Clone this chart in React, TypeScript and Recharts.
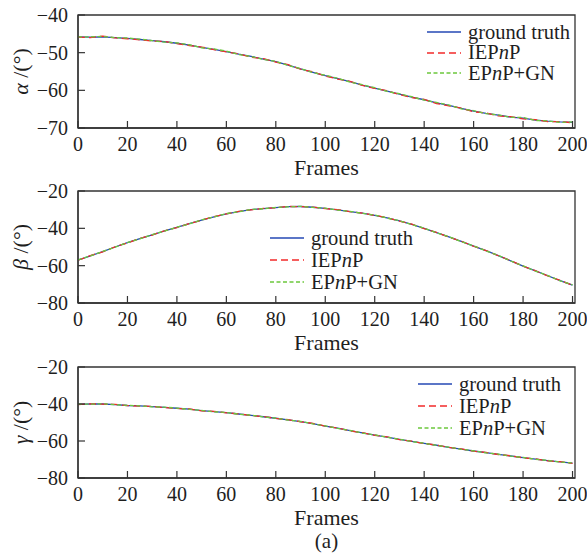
import { LineChart, Line, XAxis, YAxis, Legend, ReferenceArea, Label } from "recharts";

const frames = [
  0, 5, 10, 15, 20, 25, 30, 35, 40, 45, 50, 55, 60, 65, 70, 75, 80, 85, 90, 95, 100,
  105, 110, 115, 120, 125, 130, 135, 140, 145, 150, 155, 160, 165, 170, 175, 180, 185, 190, 195, 200,
];

const alphaTruth = [
  -45.8, -45.9, -45.8, -46.0, -46.2, -46.5, -46.8, -47.1, -47.5, -48.0, -48.6, -49.1, -49.7, -50.4,
  -51.0, -51.7, -52.4, -53.3, -54.3, -55.2, -56.1, -56.9, -57.7, -58.6, -59.4, -60.2, -61.0, -61.8,
  -62.5, -63.3, -64.0, -64.8, -65.5, -66.1, -66.6, -67.1, -67.4, -67.9, -68.2, -68.4, -68.5,
];
const alphaIepnp = [
  -45.9, -46.0, -45.6, -46.1, -46.3, -46.6, -46.9, -47.0, -47.6, -48.1, -48.5, -49.2, -49.8, -50.3,
  -51.2, -51.6, -52.5, -53.2, -54.4, -55.1, -56.2, -57.0, -57.6, -58.7, -59.5, -60.1, -61.1, -61.9,
  -62.4, -63.5, -64.1, -64.7, -65.7, -66.0, -66.8, -67.0, -67.6, -67.8, -68.3, -68.3, -68.6,
];
const alphaEpnpGn = [
  -45.8, -45.8, -45.7, -46.0, -46.1, -46.4, -46.8, -47.2, -47.4, -47.9, -48.7, -49.0, -49.6, -50.5,
  -51.0, -51.8, -52.3, -53.4, -54.2, -55.3, -56.0, -56.8, -57.8, -58.5, -59.3, -60.3, -60.9, -61.7,
  -62.6, -63.2, -63.9, -64.9, -65.4, -66.2, -66.5, -67.2, -67.2, -68.0, -68.1, -68.5, -68.4,
];

const betaTruth = [
  -57.0, -54.7, -52.5, -50.0, -47.7, -45.5, -43.5, -41.4, -39.5, -37.5, -35.6, -33.8, -32.2, -31.0,
  -30.0, -29.4, -28.9, -28.4, -28.3, -28.7, -29.3, -30.1, -31.0, -31.9, -33.0, -34.4, -36.0, -37.9,
  -40.0, -42.3, -44.6, -47.0, -49.5, -52.0, -54.6, -57.4, -60.2, -62.8, -65.4, -68.0, -70.4,
];
const betaIepnp = [
  -57.1, -54.6, -52.6, -49.9, -47.8, -45.4, -43.6, -41.3, -39.6, -37.4, -35.7, -33.7, -32.3, -30.9,
  -30.1, -29.3, -29.0, -28.3, -28.4, -28.6, -29.4, -30.0, -31.1, -31.8, -33.1, -34.3, -36.1, -37.8,
  -40.1, -42.2, -44.7, -46.9, -49.6, -51.9, -54.7, -57.3, -60.3, -62.7, -65.5, -67.9, -70.5,
];
const betaEpnpGn = [
  -56.9, -54.8, -52.4, -50.1, -47.6, -45.6, -43.4, -41.5, -39.4, -37.6, -35.5, -33.9, -32.1, -31.1,
  -29.9, -29.5, -28.8, -28.5, -28.2, -28.8, -29.2, -30.2, -30.9, -32.0, -32.9, -34.5, -35.9, -38.0,
  -39.9, -42.4, -44.5, -47.1, -49.4, -52.1, -54.5, -57.5, -60.1, -62.9, -65.3, -68.1, -70.3,
];

const gammaTruth = [
  -40.2, -40.0, -40.0, -40.3, -40.8, -41.0, -41.4, -41.8, -42.3, -42.8, -43.6, -44.1, -44.7, -45.4,
  -46.1, -46.9, -47.7, -48.6, -49.5, -50.6, -51.9, -53.1, -54.4, -55.6, -56.8, -57.9, -59.1, -60.2,
  -61.3, -62.3, -63.4, -64.4, -65.4, -66.3, -67.2, -68.1, -69.0, -69.8, -70.6, -71.3, -72.0,
];
const gammaIepnp = [
  -40.3, -39.9, -40.1, -40.2, -40.9, -41.1, -41.3, -41.9, -42.4, -42.7, -43.7, -44.0, -44.8, -45.3,
  -46.2, -46.8, -47.8, -48.5, -49.6, -50.5, -52.0, -53.0, -54.5, -55.5, -56.9, -57.8, -59.2, -60.1,
  -61.4, -62.2, -63.5, -64.3, -65.5, -66.2, -67.3, -68.0, -69.1, -69.7, -70.7, -71.2, -72.1,
];
const gammaEpnpGn = [
  -40.1, -40.1, -39.9, -40.4, -40.7, -41.0, -41.5, -41.7, -42.2, -42.9, -43.5, -44.2, -44.6, -45.5,
  -46.0, -47.0, -47.6, -48.7, -49.4, -50.7, -51.8, -53.2, -54.3, -55.7, -56.7, -58.0, -59.0, -60.3,
  -61.2, -62.4, -63.3, -64.5, -65.3, -66.4, -67.1, -68.2, -68.9, -69.9, -70.5, -71.4, -71.9,
];

const xTicks = [0, 20, 40, 60, 80, 100, 120, 140, 160, 180, 200];
const alphaTicks = [-70, -60, -50, -40];
const betaTicks = [-80, -60, -40, -20];
const gammaTicks = [-80, -60, -40, -20];

const seriesNames = ["ground truth", "IEPnP", "EPnP+GN"];

const FONT = "Liberation Serif, serif";
const INK = "#1e1e1e";
const AXIS = "#333";
const COLORS = ["#2448b4", "#f22a2a", "#6cc83c"];
const DASHES = [undefined, "7 4", "4 2.5"];
const W = 587;
const H = 180;

const fmt = (v: number) => String(v).replace("-", "\u2212");

// "IEPnP" -> IEP<i>n</i>P
function legendLabel(name: string) {
  const k = name.indexOf("nP");
  if (k < 0) return name;
  return (
    <>
      {name.slice(0, k)}
      <i>n</i>
      {name.slice(k + 1)}
    </>
  );
}

function LegendBox({ rowGap }: { rowGap: number }) {
  return (
    <div style={{ fontFamily: FONT, fontSize: 20.5, color: INK }}>
      {seriesNames.map((name, i) => (
        <div key={name} style={{ display: "flex", alignItems: "center", height: rowGap }}>
          <svg width={34} height={4}>
            <line x1={0} y1={2} x2={34} y2={2} stroke={COLORS[i]} strokeWidth={1.4} strokeDasharray={DASHES[i]} />
          </svg>
          <span style={{ marginLeft: 7, lineHeight: "19px", whiteSpace: "nowrap" }}>{legendLabel(name)}</span>
        </div>
      ))}
    </div>
  );
}

function Panel({
  top,
  plotTop,
  plotBottom,
  greek,
  yTicks,
  truth,
  iepnp,
  epnpGn,
  legendLeft,
  legendTop,
  rowGap,
}: {
  top: number;
  plotTop: number;
  plotBottom: number;
  greek: string;
  yTicks: number[];
  truth: number[];
  iepnp: number[];
  epnpGn: number[];
  legendLeft: number;
  legendTop: number;
  rowGap: number;
}) {
  const data = frames.map((f, i) => ({ frame: f, truth: truth[i], iepnp: iepnp[i], epnpGn: epnpGn[i] }));
  const yMin = yTicks[0];
  const yMax = yTicks[yTicks.length - 1];
  const tickStyle = { fill: INK, fontSize: 20, fontFamily: FONT };

  return (
    <div style={{ position: "absolute", left: 0, top }}>
      <LineChart width={W} height={H} data={data} margin={{ top: plotTop, right: 12, left: 0, bottom: 0 }}>
        <XAxis
          dataKey="frame"
          type="number"
          domain={[0, 201]}
          ticks={xTicks}
          interval={0}
          height={H - plotBottom}
          tickSize={-7}
          tickMargin={16}
          tick={tickStyle}
          tickLine={{ stroke: AXIS, strokeWidth: 1.2 }}
          axisLine={{ stroke: AXIS, strokeWidth: 1.3 }}
        >
          <Label
            value="Frames"
            position="insideBottom"
            offset={H - plotBottom - 47}
            style={{ fill: INK, fontSize: 22, fontFamily: FONT }}
          />
        </XAxis>
        <YAxis
          type="number"
          domain={[yMin, yMax]}
          ticks={yTicks}
          interval={0}
          width={78}
          tickSize={-7}
          tickMargin={17}
          tickFormatter={fmt}
          tick={tickStyle}
          tickLine={{ stroke: AXIS, strokeWidth: 1.2 }}
          axisLine={{ stroke: AXIS, strokeWidth: 1.3 }}
        >
          <Label
            content={({ viewBox }: any) => {
              const cy = viewBox.y + viewBox.height / 2;
              return (
                <text
                  x={20}
                  y={cy}
                  transform={`rotate(-90, 20, ${cy})`}
                  textAnchor="middle"
                  dominantBaseline="central"
                  fill={INK}
                  fontSize={22}
                  fontFamily={FONT}
                >
                  <tspan fontStyle="italic">{greek}</tspan>
                  <tspan> /(°)</tspan>
                </text>
              );
            }}
          />
        </YAxis>
        <ReferenceArea x1={0} x2={201} y1={yMin} y2={yMax} fill="none" stroke={AXIS} strokeWidth={1.3} />
        <Line dataKey="truth" name={seriesNames[0]} stroke={COLORS[0]} strokeWidth={1.3} dot={false} isAnimationActive={false} />
        <Line dataKey="iepnp" name={seriesNames[1]} stroke={COLORS[1]} strokeWidth={1.3} strokeDasharray={DASHES[1]} dot={false} isAnimationActive={false} />
        <Line dataKey="epnpGn" name={seriesNames[2]} stroke={COLORS[2]} strokeWidth={1.3} strokeDasharray={DASHES[2]} dot={false} isAnimationActive={false} />
        <Legend
          layout="vertical"
          align="center"
          verticalAlign="middle"
          content={() => <LegendBox rowGap={rowGap} />}
          wrapperStyle={{ left: legendLeft, top: legendTop, width: "auto", height: "auto" }}
        />
      </LineChart>
    </div>
  );
}

export default function App() {
  return (
    <div style={{ position: "absolute", left: 0, top: 0, width: W, height: 553, background: "#fff" }}>
      <Panel
        top={0}
        plotTop={15}
        plotBottom={128}
        greek="α"
        yTicks={alphaTicks}
        truth={alphaTruth}
        iepnp={alphaIepnp}
        epnpGn={alphaEpnpGn}
        legendLeft={427}
        legendTop={22}
        rowGap={20.5}
      />
      <Panel
        top={176}
        plotTop={15}
        plotBottom={127}
        greek="β"
        yTicks={betaTicks}
        truth={betaTruth}
        iepnp={betaIepnp}
        epnpGn={betaEpnpGn}
        legendLeft={270}
        legendTop={51}
        rowGap={22}
      />
      <Panel
        top={352}
        plotTop={15}
        plotBottom={126}
        greek="γ"
        yTicks={gammaTicks}
        truth={gammaTruth}
        iepnp={gammaIepnp}
        epnpGn={gammaEpnpGn}
        legendLeft={418}
        legendTop={21}
        rowGap={22}
      />
      <div
        style={{
          position: "absolute",
          left: 0,
          width: 653,
          top: 530,
          textAlign: "center",
          fontFamily: FONT,
          fontSize: 21,
          color: INK,
          lineHeight: "22px",
        }}
      >
        (a)
      </div>
    </div>
  );
}
